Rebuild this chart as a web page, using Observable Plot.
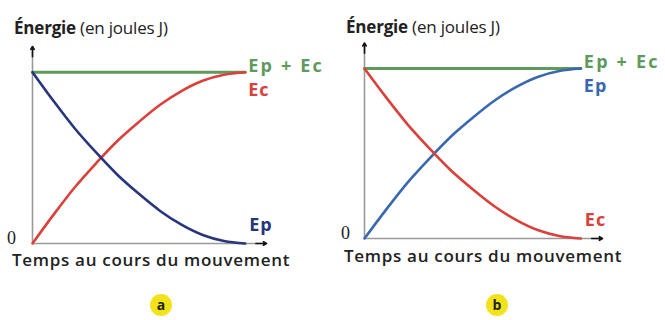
<!DOCTYPE html>
<html>
<head>
<meta charset="utf-8">
<script src="https://cdn.jsdelivr.net/npm/d3@7"></script>
<script src="https://cdn.jsdelivr.net/npm/@observablehq/plot@0.6"></script>
<style>
  html, body { margin: 0; padding: 0; background: #fff; }
  #root { position: relative; width: 665px; height: 320px; overflow: hidden; font-family: "Open Sans", sans-serif; color: #222; }
  .panel { position: absolute; top: 0; }
  .title { position: absolute; font-size: 17px; white-space: nowrap; letter-spacing: -0.2px; }
  .title b { font-weight: 700; }
  .xlab { position: absolute; font-size: 17px; font-weight: 600; white-space: nowrap; letter-spacing: 0.7px; }
  .zero { position: absolute; font-family: "Liberation Serif", serif; font-size: 18px; }
  .badge { position: absolute; width: 22px; height: 22px; border-radius: 50%; background: #f2e21a; text-align: center; line-height: 22px; font-weight: 700; font-size: 14px; }
  .energy text.sum { letter-spacing: 2.2px; }
  .energy text.single { letter-spacing: 1px; }
</style>
</head>
<body>
<div id="root"></div>
<script>
// ---- data ----
const time = [0, 1, 2, 3, 4, 5, 6, 7, 8, 9, 10];
const decreasing = [10, 8.3, 6.7, 5.3, 4.0, 2.9, 1.9, 1.1, 0.5, 0.15, 0];   // falling energy
const increasing = [0, 1.7, 3.3, 4.7, 6.0, 7.1, 8.1, 8.9, 9.5, 9.85, 10];  // rising energy
const total = [10, 10, 10, 10, 10, 10, 10, 10, 10, 10, 10];                // Ep + Ec
const axisMax = {x: 11, y: 11.5};
const panelNames = ["a", "b"];
const titleText = "Énergie";
const titleUnit = " (en joules J)";
const xLabelText = "Temps au cours du mouvement";

const green = "#5f9a5c";
const red = "#d9413a";
const blueA = "#27357d";
const blueB = "#3a68ad";

function series(ys) { return time.map((t, i) => ({t, v: ys[i]})); }

function panel(cfg) {
  const axisX = [{x1: 0, y1: 0, x2: axisMax.x, y2: 0}];
  const axisY = [{x1: 0, y1: 0, x2: 0, y2: axisMax.y}];
  const headX = [{x1: axisMax.x - 0.5, y1: 0, x2: axisMax.x, y2: 0}];
  const headY = [{x1: 0, y1: axisMax.y - 0.6, x2: 0, y2: axisMax.y}];
  const end = time[time.length - 1];
  const svg = Plot.plot({
    className: "energy",
    width: cfg.width, height: 260,
    marginLeft: 32, marginRight: cfg.marginRight, marginTop: cfg.marginTop, marginBottom: cfg.marginBottom,
    x: {domain: [0, axisMax.x], axis: null},
    y: {domain: [0, axisMax.y], axis: null},
    style: {overflow: "visible"},
    marks: [
      Plot.link(axisX, {x1: "x1", y1: "y1", x2: "x2", y2: "y2", stroke: "#9a9a9a", strokeWidth: 1.6}),
      Plot.link(axisY, {x1: "x1", y1: "y1", x2: "x2", y2: "y2", stroke: "#9a9a9a", strokeWidth: 1.6}),
      Plot.arrow(headX, {x1: "x1", y1: "y1", x2: "x2", y2: "y2", stroke: "#111", strokeWidth: 1.6, headLength: 7}),
      Plot.arrow(headY, {x1: "x1", y1: "y1", x2: "x2", y2: "y2", stroke: "#111", strokeWidth: 1.6, headLength: 7}),
      Plot.line(series(total), {x: "t", y: "v", stroke: green, strokeWidth: 3}),
      Plot.line(series(increasing), {x: "t", y: "v", stroke: cfg.incColor, strokeWidth: 2.6, curve: "monotone-x"}),
      Plot.line(series(decreasing), {x: "t", y: "v", stroke: cfg.decColor, strokeWidth: 2.6, curve: "monotone-x"}),
      Plot.text([{t: end, v: 10, s: "Ep + Ec"}], {x: "t", y: "v", text: "s", fill: green, dx: 3, dy: -6, textAnchor: "start", fontSize: 18, fontWeight: 700, fontFamily: "Open Sans", className: "sum"}),
      Plot.text([{t: end, v: 10, s: cfg.incName}], {x: "t", y: "v", text: "s", fill: cfg.incColor, dx: 3, dy: 18, textAnchor: "start", fontSize: 18, fontWeight: 700, fontFamily: "Open Sans", className: "single"}),
      Plot.text([{t: end, v: 0, s: cfg.decName}], {x: "t", y: "v", text: "s", fill: cfg.decColor, dx: 4, dy: -18, textAnchor: "start", fontSize: 18, fontWeight: 700, fontFamily: "Open Sans", className: "single"})
    ]
  });
  // ensure letter spacing is applied to label groups
  d3.select(svg).selectAll("g.sum text").style("letter-spacing", "2.2px");
  d3.select(svg).selectAll("g.single text").style("letter-spacing", "1px");
  return svg;
}

const root = document.getElementById("root");
const cfgs = [
  {left: 0, width: 330, marginRight: 64, marginTop: 46, marginBottom: 17, incColor: red, decColor: blueA, incName: "Ec", decName: "Ep",
   titleX: 14, titleY: 16, xlabX: 12, xlabY: 248, zeroX: 7, zeroY: 228, badgeX: 150, badgeY: 294},
  {left: 332, width: 333, marginRight: 63, marginTop: 42.5, marginBottom: 22, incColor: blueB, decColor: red, incName: "Ep", decName: "Ec",
   titleX: 346, titleY: 15, xlabX: 344, xlabY: 244, zeroX: 341, zeroY: 223, badgeX: 486, badgeY: 294}
];
cfgs.forEach((c, i) => {
  const div = document.createElement("div");
  div.className = "panel";
  div.style.left = c.left + "px";
  div.appendChild(panel(c));
  root.appendChild(div);

  const t = document.createElement("div");
  t.className = "title";
  t.style.left = c.titleX + "px"; t.style.top = c.titleY + "px";
  t.innerHTML = "<b>" + titleText + "</b>" + titleUnit;
  root.appendChild(t);

  const xl = document.createElement("div");
  xl.className = "xlab";
  xl.style.left = c.xlabX + "px"; xl.style.top = c.xlabY + "px";
  xl.textContent = xLabelText;
  root.appendChild(xl);

  const z = document.createElement("div");
  z.className = "zero";
  z.style.left = c.zeroX + "px"; z.style.top = c.zeroY + "px";
  z.textContent = "0";
  root.appendChild(z);

  const b = document.createElement("div");
  b.className = "badge";
  b.style.left = c.badgeX + "px"; b.style.top = c.badgeY + "px";
  b.textContent = panelNames[i];
  root.appendChild(b);
});
</script>
</body>
</html>
